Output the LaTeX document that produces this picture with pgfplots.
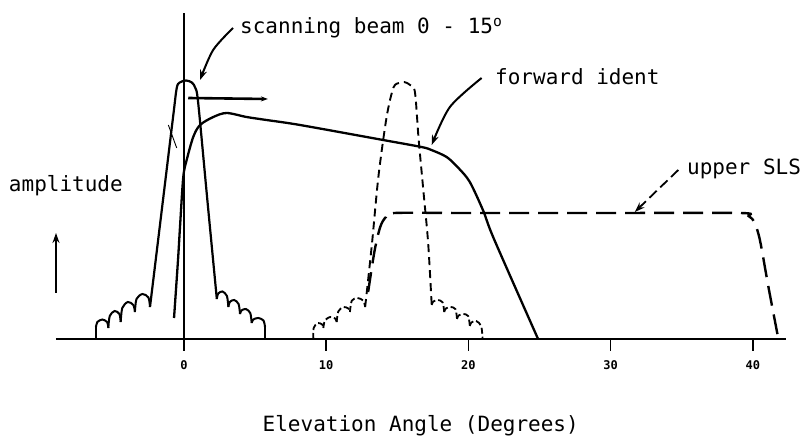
\documentclass[border=0pt]{standalone}
\usepackage{fontspec}
\usepackage{pgfplots}
\pgfplotsset{compat=1.18}
\usetikzlibrary{arrows.meta}
\newfontfamily\mono{DejaVu Sans Mono}
\newcommand{\lblfont}{\mono\fontsize{21}{25}\selectfont}
\newcommand{\tickfont}{\mono\bfseries\fontsize{12}{14}\selectfont}
\begin{document}
\begin{tikzpicture}
\begin{axis}[
  scale only axis, width=729.5pt, height=326pt,
  xmin=-9, xmax=42.3, ymin=0, ymax=326,
  clip=false,
  axis x line*=bottom, axis y line=none,
  x axis line style={line width=2.8pt},
  xtick={0,10,20,30,40}, xticklabels={0,10,20,30,40},
  ytick=\empty,
  tick align=outside, major tick length=12pt,
  xtick style={line width=1.4pt, black},
  xticklabel style={font=\tickfont, anchor=base, yshift=-19pt},
]
% vertical reference line at 0 degrees
\addplot[line width=1.3pt] coordinates {(0,-8) (0,326)};
% scanning beam main lobe (solid, at 0)
\addplot[line width=2.2pt, smooth] coordinates {
 (-2.39,32) (-1.45,142) (-0.75,224) (-0.51,251) (-0.3,256.5) (0.14,258.5)
 (0.55,256.5) (0.8,251) (1.0,236) (1.65,138) (2.31,40)};
% left sidelobes
\addplot[line width=2pt, smooth] coordinates {(-3.45,27) (-3.34,40) (-2.92,45) (-2.5,41.5) (-2.39,32)};
\addplot[line width=2pt, smooth] coordinates {(-4.45,17) (-4.34,31) (-3.95,37) (-3.56,34) (-3.45,27)};
\addplot[line width=2pt, smooth] coordinates {(-5.32,11) (-5.22,23) (-4.88,28) (-4.54,25) (-4.45,17)};
\addplot[line width=2pt, smooth] coordinates {(-6.19,12) (-6.09,17) (-5.75,19.5) (-5.41,17) (-5.32,11)};
\addplot[line width=1.3pt] coordinates {(-6.19,0) (-6.19,12)};
% right sidelobes
\addplot[line width=2pt, smooth] coordinates {(2.31,40) (2.41,45.5) (2.71,47.5) (3.02,43) (3.12,32)};
\addplot[line width=2pt, smooth] coordinates {(3.12,32) (3.22,37) (3.53,39) (3.84,35) (3.94,25)};
\addplot[line width=2pt, smooth] coordinates {(3.94,25) (4.04,28.5) (4.35,30) (4.66,26) (4.76,16)};
\addplot[line width=2pt, smooth] coordinates {(4.76,16) (4.87,19.5) (5.23,21) (5.59,18.5) (5.70,12)};
\addplot[line width=1.3pt] coordinates {(5.70,12) (5.70,0)};
% thin stroke near main lobe
\addplot[line width=0.9pt] coordinates {(-1.1,214) (-0.51,191)};
% scan direction arrow
\addplot[line width=2.6pt, -{Stealth[length=7pt,width=5pt]}] coordinates {(0.3,241) (5.9,240)};
% forward ident (solid)
\addplot[line width=2.3pt, smooth] coordinates {
 (-0.70,21) (-0.42,79) (-0.28,112) (-0.05,162) (0.19,179) (0.65,202) (1.13,214)
 (2.06,222) (3.0,226) (4.4,222) (5.8,219) (8.16,214) (14.0,199) (16.7,192)
 (17.4,189) (18.47,182) (19.3,171) (20.1,157) (21.05,128) (21.8,100) (24.9,0)};
% scanning beam at 15 deg (dashed)
\addplot[line width=1.9pt, smooth, dash pattern=on 8pt off 5pt] coordinates {
 (12.74,32) (13.21,94) (13.67,162) (14.25,222) (14.72,251) (15.1,256) (15.49,257)
 (15.9,254) (16.24,247) (16.5,200) (16.85,146) (17.17,96) (17.42,34)};
\addplot[line width=1.8pt, smooth, dash pattern=on 6pt off 3pt] coordinates {(11.67,27) (11.8,38.3) (12.2,41) (12.61,38.3) (12.74,32)};
\addplot[line width=1.8pt, smooth, dash pattern=on 6pt off 3pt] coordinates {(10.74,17) (10.85,27.5) (11.2,32) (11.56,30.5) (11.67,27)};
\addplot[line width=1.8pt, smooth, dash pattern=on 6pt off 3pt] coordinates {(9.8,11) (9.91,18.5) (10.27,22) (10.63,20.5) (10.74,17)};
\addplot[line width=1.8pt, smooth, dash pattern=on 6pt off 3pt] coordinates {(9.1,0) (9.12,11) (9.4,16) (9.72,14.5) (9.8,11)};
\addplot[line width=1.8pt, smooth, dash pattern=on 6pt off 3pt] coordinates {(17.42,34) (17.53,37.5) (17.86,39) (18.19,36.6) (18.3,27)};
\addplot[line width=1.8pt, smooth, dash pattern=on 6pt off 3pt] coordinates {(18.3,27) (18.41,30.5) (18.75,32) (19.09,29.9) (19.2,20)};
\addplot[line width=1.8pt, smooth, dash pattern=on 6pt off 3pt] coordinates {(19.2,20) (19.31,23.5) (19.65,25) (19.99,22.9) (20.1,13)};
\addplot[line width=1.8pt, smooth, dash pattern=on 6pt off 3pt] coordinates {(20.1,13) (20.21,16.5) (20.55,18) (20.9,13) (21.0,0)};
% upper SLS (long dashes)
\addplot[line width=2.4pt, smooth, dash pattern=on 20pt off 9pt] coordinates {
 (12.95,47) (13.4,88) (13.8,112) (14.2,122) (14.8,126) (20,126) (30,126) (39.1,126)
 (39.7,123) (40.1,117) (40.5,99) (41.1,52) (41.8,0)};
% amplitude arrow
\addplot[line width=1.8pt, -{Stealth[length=10pt,width=7pt]}] coordinates {(-9,46) (-9,106)};
% label arrows
\addplot[line width=2pt, smooth, -{Stealth[length=10pt,width=7pt]}] coordinates {(3.45,311) (2.05,289) (1.13,259)};
\addplot[line width=2pt, smooth, -{Stealth[length=10pt,width=7pt]}] coordinates {(20.93,261) (18.7,232) (17.42,194)};
\addplot[line width=1.8pt, smooth, dash pattern=on 10pt off 5pt, -{Stealth[length=10pt,width=7pt]}] coordinates {(34.76,169) (33.3,149) (31.7,127)};
% texts
\node[font=\lblfont, anchor=base west, inner sep=0pt] at (axis cs:3.94,305) {scanning beam 0 - 15\textsuperscript{o}};
\node[font=\lblfont, anchor=base west, inner sep=0pt] at (axis cs:21.87,254) {forward ident};
\node[font=\lblfont, anchor=base west, inner sep=0pt] at (axis cs:35.37,164) {upper SLS};
\node[font=\lblfont, anchor=base east, inner sep=0pt] at (axis cs:-4.29,147) {amplitude};
\node[font=\lblfont, anchor=base, inner sep=0pt] at (axis cs:16.65,-92) {Elevation Angle (Degrees)};
\end{axis}
\pgfresetboundingbox
\path (current axis.south west) ++(-56pt,-100pt) rectangle ++(806pt,439pt);
\end{tikzpicture}
\end{document}
